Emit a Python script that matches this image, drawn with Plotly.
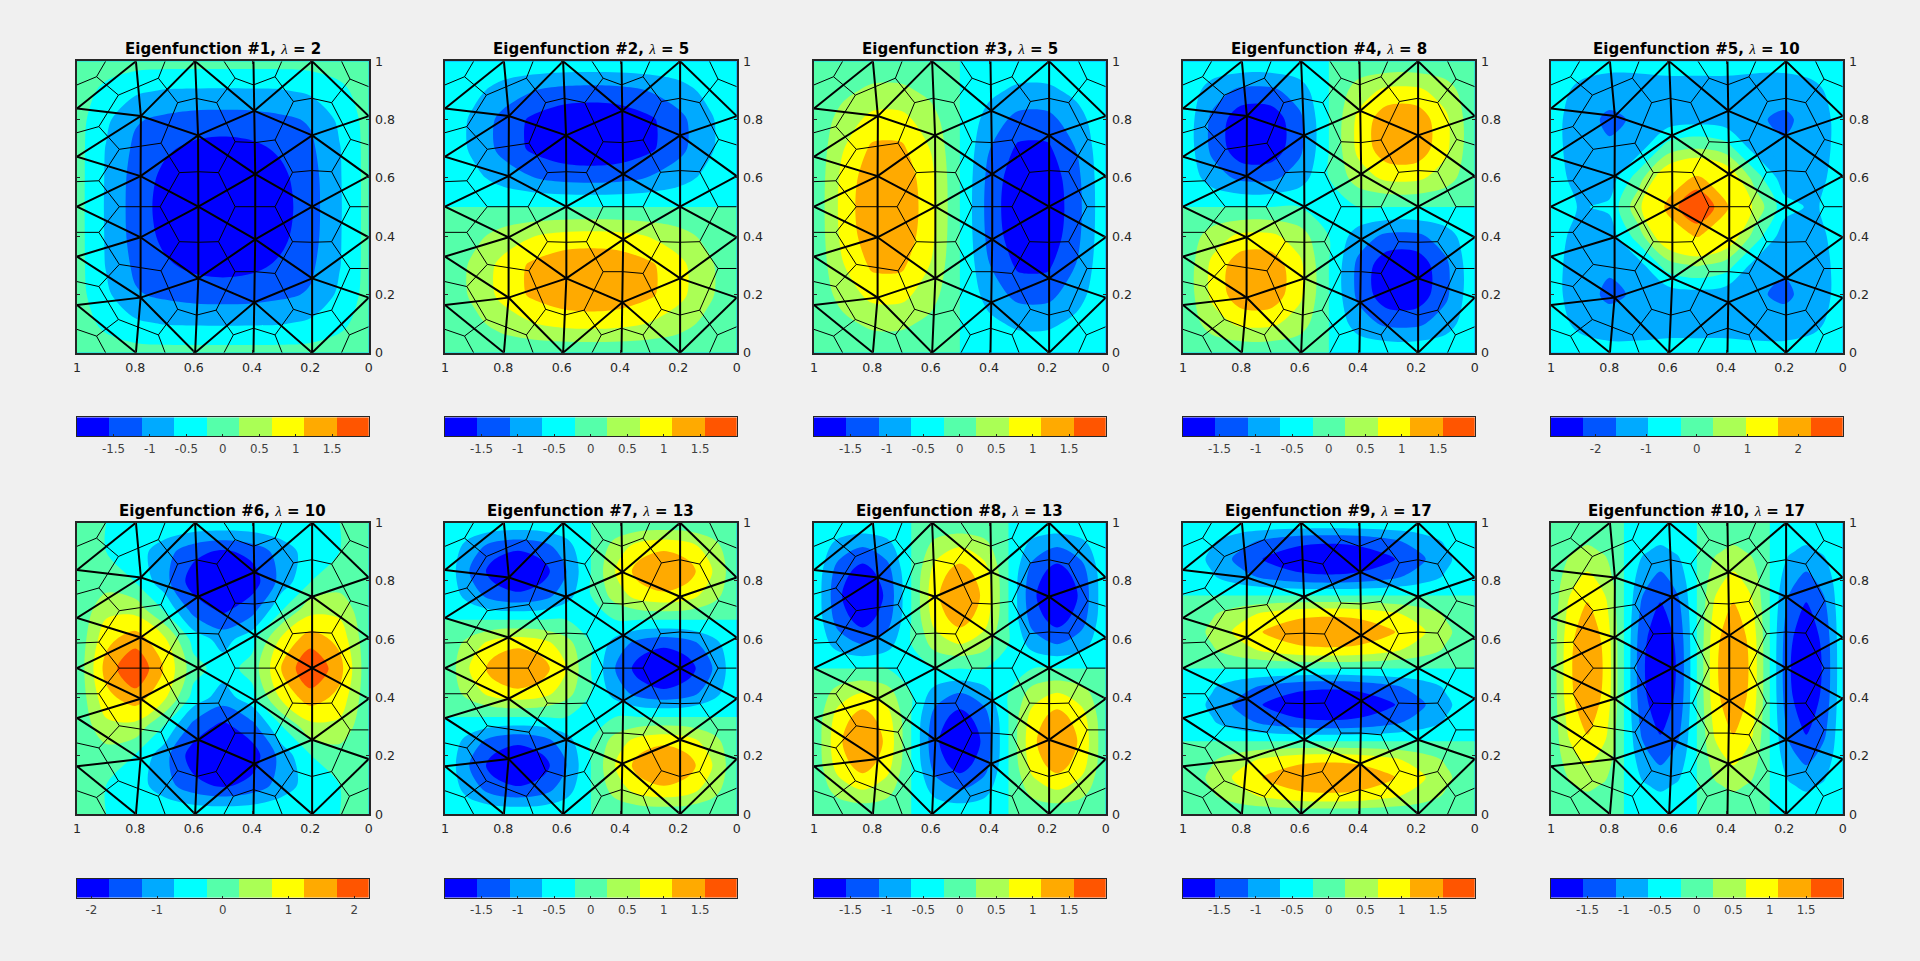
import plotly.graph_objects as go

# ---------- data ----------
TITLES = ["#1", "#2", "#3", "#4", "#5", "#6", "#7", "#8", "#9", "#10"]
LAMBDAS = [2, 5, 5, 8, 10, 10, 13, 13, 17, 17]
AXIS_TICKS = [0, 0.2, 0.4, 0.6, 0.8, 1]
AXIS_LABELS = ["0", "0.2", "0.4", "0.6", "0.8", "1"]
CBAR_LIMITS = [2, 2, 2, 2, 2.88, 2.22, 2, 2, 2, 2]
CBAR_TICKS_STD = [-1.5, -1, -0.5, 0, 0.5, 1, 1.5]
CBAR_LABELS_STD = ["-1.5", "-1", "-0.5", "0", "0.5", "1", "1.5"]
CBAR_TICKS_WIDE = [-2, -1, 0, 1, 2]
CBAR_LABELS_WIDE = ["-2", "-1", "0", "1", "2"]

JET9 = ["#0000ff", "#0055ff", "#00aaff", "#00ffff", "#55ffaa", "#aaff55", "#ffff00", "#ffaa00", "#ff5500"]
JET_P5 = ["#0055ff", "#00aaff", "#00aaff", "#00ffff", "#55ffaa", "#aaff55", "#ffff00", "#ffff00", "#ffaa00", "#ff5500"]

G10 = [0, .1, .2, .3, .4, .5, .6, .7, .8, .9, 1]
G12 = [0, .0833, .1667, .25, .3333, .4167, .5, .5833, .6667, .75, .8333, .9167, 1]
G16 = [0, .0625, .125, .1875, .25, .3125, .375, .4375, .5, .5625, .625, .6875, .75, .8125, .875, .9375, 1]

P1 = [
 [.2,.2,.2,.2,.2,.2,.2,.2,.2,.2,.2],
 [.2,-.1,-.4,-.53,-.55,-.56,-.55,-.53,-.4,-.1,.2],
 [.2,-.4,-.95,-1.1,-1.2,-1.22,-1.2,-1.1,-.95,-.4,.2],
 [.2,-.53,-1.1,-1.42,-1.62,-1.7,-1.62,-1.42,-1.1,-.53,.2],
 [.2,-.55,-1.2,-1.62,-1.85,-1.9,-1.85,-1.62,-1.2,-.55,.2],
 [.2,-.56,-1.22,-1.7,-1.9,-2,-1.9,-1.7,-1.22,-.56,.2],
 [.2,-.55,-1.2,-1.62,-1.85,-1.9,-1.85,-1.62,-1.2,-.55,.2],
 [.2,-.53,-1.1,-1.42,-1.62,-1.7,-1.62,-1.42,-1.1,-.53,.2],
 [.2,-.4,-.95,-1.1,-1.2,-1.22,-1.2,-1.1,-.95,-.4,.2],
 [.2,-.1,-.4,-.53,-.55,-.56,-.55,-.53,-.4,-.1,.2],
 [.2,.2,.2,.2,.2,.2,.2,.2,.2,.2,.2],
]
P2 = [
 [.1,.1,.1,.1,.1,.1,.1,.1,.1,.1,.1],
 [.1,.36,.72,.98,1.15,1.2,1.15,.98,.72,.36,.1],
 [.1,.62,1.16,1.6,1.85,1.92,1.85,1.6,1.16,.62,.1],
 [.1,.62,1.16,1.6,1.85,1.92,1.85,1.6,1.16,.62,.1],
 [.1,.36,.72,.98,1.15,1.2,1.15,.98,.72,.36,.1],
 [0,0,0,0,0,0,0,0,0,0,0],
 [-.1,-.36,-.72,-.98,-1.15,-1.2,-1.15,-.98,-.72,-.36,-.1],
 [-.1,-.62,-1.16,-1.6,-1.85,-1.92,-1.85,-1.6,-1.16,-.62,-.1],
 [-.1,-.62,-1.16,-1.6,-1.85,-1.92,-1.85,-1.6,-1.16,-.62,-.1],
 [-.1,-.36,-.72,-.98,-1.15,-1.2,-1.15,-.98,-.72,-.36,-.1],
 [-.1,-.1,-.1,-.1,-.1,-.1,-.1,-.1,-.1,-.1,-.1],
]
P3 = [
 [-.1,-.1,-.1,-.1,-.1,0,.1,.1,.1,.1,.1],
 [-.1,-.36,-.62,-.62,-.36,0,.36,.62,.62,.36,.1],
 [-.1,-.72,-1.16,-1.16,-.72,0,.72,1.16,1.16,.72,.1],
 [-.1,-.98,-1.6,-1.6,-.98,0,.98,1.6,1.6,.98,.1],
 [-.1,-1.15,-1.85,-1.85,-1.15,0,1.15,1.85,1.85,1.15,.1],
 [-.1,-1.2,-1.92,-1.92,-1.2,0,1.2,1.92,1.92,1.2,.1],
 [-.1,-1.15,-1.85,-1.85,-1.15,0,1.15,1.85,1.85,1.15,.1],
 [-.1,-.98,-1.6,-1.6,-.98,0,.98,1.6,1.6,.98,.1],
 [-.1,-.72,-1.16,-1.16,-.72,0,.72,1.16,1.16,.72,.1],
 [-.1,-.36,-.62,-.62,-.36,0,.36,.62,.62,.36,.1],
 [-.1,-.1,-.1,-.1,-.1,0,.1,.1,.1,.1,.1],
]
P4 = [
 [-.1,-.1,-.1,-.1,-.1,0,.1,.1,.1,.1,.1],
 [-.1,-.75,-1.12,-1.12,-.75,0,.75,1.12,1.12,.75,.1],
 [-.1,-1.12,-1.85,-1.85,-1.12,0,1.12,1.85,1.85,1.12,.1],
 [-.1,-1.12,-1.85,-1.85,-1.12,0,1.12,1.85,1.85,1.12,.1],
 [-.1,-.75,-1.12,-1.12,-.75,0,.75,1.12,1.12,.75,.1],
 [0,0,0,0,0,0,0,0,0,0,0],
 [.1,.75,1.12,1.12,.75,0,-.75,-1.12,-1.12,-.75,-.1],
 [.1,1.12,1.85,1.85,1.12,0,-1.12,-1.85,-1.85,-1.12,-.1],
 [.1,1.12,1.85,1.85,1.12,0,-1.12,-1.85,-1.85,-1.12,-.1],
 [.1,.75,1.12,1.12,.75,0,-.75,-1.12,-1.12,-.75,-.1],
 [.1,.1,.1,.1,.1,0,-.1,-.1,-.1,-.1,-.1],
]
P5 = [
 [-.1,-.1,-.1,-.1,-.1,-.1,-.1,-.1,-.1,-.1,-.1],
 [-.1,-.71,-1.09,-1.06,-.9,-.9,-.9,-1.06,-1.09,-.71,-.1],
 [-.1,-1.09,-1.7,-1.35,-.79,-.7,-.79,-1.35,-1.7,-1.09,-.1],
 [-.1,-1.06,-1.35,-.71,.26,.55,.26,-.71,-1.35,-1.06,-.1],
 [-.1,-.83,-.79,.26,1.58,2.05,1.58,.26,-.79,-.83,-.1],
 [-.1,-.6,-.3,.87,2.1,3.1,2.15,.87,-.4,-.55,-.1],
 [-.1,-.83,-.79,.26,1.58,2.1,1.58,.26,-.79,-.83,-.1],
 [-.1,-1.06,-1.35,-.71,.26,.5,.26,-.71,-1.35,-1.06,-.1],
 [-.1,-1.09,-1.7,-1.35,-.79,-.7,-.79,-1.35,-1.7,-1.09,-.1],
 [-.1,-.71,-1.09,-1.06,-.9,-.9,-.9,-1.06,-1.09,-.71,-.1],
 [-.1,-.1,-.1,-.1,-.1,-.1,-.1,-.1,-.1,-.1,-.1],
]
P6 = [
 [.1,0,-.1,-.1,-.1,-.1,-.1,-.1,-.1,0,.1],
 [.1,0,-.26,-.79,-1.35,-1.6,-1.35,-.79,-.26,0,.1],
 [.1,.26,-.02,-.83,-1.77,-2.35,-1.77,-.83,-.02,.26,.1],
 [.1,.85,.83,-.05,-1.2,-1.65,-1.2,-.05,.83,.85,.1],
 [.1,1.35,1.77,1.09,-.2,-.75,-.2,1.09,1.77,1.35,.1],
 [.1,1.7,2.5,1.5,.2,-.25,.2,1.45,2.5,1.7,.1],
 [.1,1.35,1.77,1.09,-.2,-.7,-.2,1.09,1.77,1.35,.1],
 [.1,.85,.83,-.05,-1.2,-1.6,-1.2,-.05,.83,.85,.1],
 [.1,.26,-.02,-.83,-1.77,-2.35,-1.77,-.83,-.02,.26,.1],
 [.1,0,-.26,-.79,-1.35,-1.6,-1.35,-.79,-.26,0,.1],
 [.1,0,-.1,-.1,-.1,-.1,-.1,-.1,-.1,0,.1],
]
P7 = [
 [.1,.1,.1,.1,.1,.1,0,-.1,-.1,-.1,-.1,-.1,-.1],
 [.1,.71,1.23,1.41,1.23,.71,0,-.71,-1.23,-1.41,-1.23,-.71,-.1],
 [.1,1,1.73,1.95,1.73,1,0,-1,-1.73,-2,-1.73,-1,-.1],
 [.1,.71,1.23,1.41,1.23,.71,0,-.71,-1.23,-1.41,-1.23,-.71,-.1],
 [0,0,0,0,0,0,0,0,0,0,0,0,0],
 [-.1,-.71,-1.23,-1.41,-1.23,-.71,0,.71,1.23,1.41,1.23,.71,.1],
 [-.1,-1,-1.73,-2,-1.73,-1,0,1,1.73,1.95,1.73,1,.1],
 [-.1,-.71,-1.23,-1.41,-1.23,-.71,0,.71,1.23,1.41,1.23,.71,.1],
 [0,0,0,0,0,0,0,0,0,0,0,0,0],
 [.1,.71,1.23,1.41,1.23,.71,0,-.71,-1.23,-1.41,-1.23,-.71,-.1],
 [.1,1,1.73,1.95,1.73,1,0,-1,-1.73,-2,-1.73,-1,-.1],
 [.1,.71,1.23,1.41,1.23,.71,0,-.71,-1.23,-1.41,-1.23,-.71,-.1],
 [.1,.1,.1,.1,.1,.1,0,-.1,-.1,-.1,-.1,-.1,-.1],
]
P8 = [
 [.1,.1,.1,.1,0,-.1,-.1,-.1,0,.1,.1,.1,.1],
 [.1,.71,1,.71,0,-.71,-1,-.71,0,.71,1,.71,.1],
 [.1,1.23,1.73,1.23,0,-1.23,-1.73,-1.23,0,1.23,1.73,1.23,.1],
 [.1,1.41,1.95,1.41,0,-1.41,-2,-1.41,0,1.41,1.95,1.41,.1],
 [.1,1.23,1.73,1.23,0,-1.23,-1.73,-1.23,0,1.23,1.73,1.23,.1],
 [.1,.71,1,.71,0,-.71,-1,-.71,0,.71,1,.71,.1],
 [0,0,0,0,0,0,0,0,0,0,0,0,0],
 [-.1,-.71,-1,-.71,0,.71,1,.71,0,-.71,-1,-.71,-.1],
 [-.1,-1.23,-1.73,-1.23,0,1.23,1.73,1.23,0,-1.23,-1.73,-1.23,-.1],
 [-.1,-1.41,-2,-1.41,0,1.41,1.95,1.41,0,-1.41,-2,-1.41,-.1],
 [-.1,-1.23,-1.73,-1.23,0,1.23,1.73,1.23,0,-1.23,-1.73,-1.23,-.1],
 [-.1,-.71,-1,-.71,0,.71,1,.71,0,-.71,-1,-.71,-.1],
 [-.1,-.1,-.1,-.1,0,.1,.1,.1,0,-.1,-.1,-.1,-.1],
]
P9 = [
 [.1,.1,.1,.1,.1,.1,.1,.1,.1,.1,.1],
 [.1,.44,.83,1.14,1.35,1.41,1.35,1.14,.83,.44,.1],
 [.1,.62,1.18,1.62,1.9,1.95,1.9,1.62,1.18,.62,.1],
 [.1,.44,.83,1.14,1.35,1.41,1.35,1.14,.83,.44,.1],
 [0,0,0,0,0,0,0,0,0,0,0],
 [-.1,-.44,-.83,-1.14,-1.35,-1.41,-1.35,-1.14,-.83,-.44,-.1],
 [-.1,-.62,-1.18,-1.62,-1.9,-2,-1.9,-1.62,-1.18,-.62,-.1],
 [-.1,-.44,-.83,-1.14,-1.35,-1.41,-1.35,-1.14,-.83,-.44,-.1],
 [0,0,0,0,0,0,0,0,0,0,0],
 [.1,.44,.83,1.14,1.35,1.41,1.35,1.14,.83,.44,.1],
 [.1,.62,1.18,1.62,1.9,1.95,1.9,1.62,1.18,.62,.1],
 [.1,.44,.83,1.14,1.35,1.41,1.35,1.14,.83,.44,.1],
 [0,0,0,0,0,0,0,0,0,0,0],
 [-.1,-.44,-.83,-1.14,-1.35,-1.41,-1.35,-1.14,-.83,-.44,-.1],
 [-.1,-.62,-1.18,-1.62,-1.9,-2,-1.9,-1.62,-1.18,-.62,-.1],
 [-.1,-.44,-.83,-1.14,-1.35,-1.41,-1.35,-1.14,-.83,-.44,-.1],
 [-.1,-.1,-.1,-.1,-.1,-.1,-.1,-.1,-.1,-.1,-.1],
]
P10 = [
 [-.1,-.1,-.1,-.1,0,.1,.1,.1,0,-.1,-.1,-.1,0,.1,.1,.1,.1],
 [-.1,-.44,-.62,-.44,0,.44,.62,.44,0,-.44,-.62,-.44,0,.44,.62,.44,.1],
 [-.1,-.83,-1.18,-.83,0,.83,1.18,.83,0,-.83,-1.18,-.83,0,.83,1.18,.83,.1],
 [-.1,-1.14,-1.62,-1.14,0,1.14,1.62,1.14,0,-1.14,-1.62,-1.14,0,1.14,1.62,1.14,.1],
 [-.1,-1.35,-1.9,-1.35,0,1.35,1.9,1.35,0,-1.35,-1.9,-1.35,0,1.35,1.9,1.35,.1],
 [-.1,-1.41,-2,-1.41,0,1.41,1.95,1.41,0,-1.41,-2,-1.41,0,1.41,1.95,1.41,.1],
 [-.1,-1.35,-1.9,-1.35,0,1.35,1.9,1.35,0,-1.35,-1.9,-1.35,0,1.35,1.9,1.35,.1],
 [-.1,-1.14,-1.62,-1.14,0,1.14,1.62,1.14,0,-1.14,-1.62,-1.14,0,1.14,1.62,1.14,.1],
 [-.1,-.83,-1.18,-.83,0,.83,1.18,.83,0,-.83,-1.18,-.83,0,.83,1.18,.83,.1],
 [-.1,-.44,-.62,-.44,0,.44,.62,.44,0,-.44,-.62,-.44,0,.44,.62,.44,.1],
 [-.1,-.1,-.1,-.1,0,.1,.1,.1,0,-.1,-.1,-.1,0,.1,.1,.1,.1],
]
PANELS = [P1, P2, P3, P4, P5, P6, P7, P8, P9, P10]
GRID_X = [G10, G10, G10, G10, G10, G10, G12, G12, G10, G16]
GRID_Y = [G10, G10, G10, G10, G10, G10, G12, G12, G16, G10]

# coarse triangle mesh
COARSE_NODES = {
 "a1": (.798, 1), "a2": (.595, 1), "a3": (.395, 1), "a4": (.194, 1),
 "b1": (.798, 0), "b2": (.595, 0), "b3": (.395, 0), "b4": (.194, 0),
 "l1": (1, .838), "l2": (1, .673), "l3": (1, .501), "l4": (1, .33), "l5": (1, .164),
 "r1": (0, .812), "r2": (0, .606), "r3": (0, .396), "r4": (0, .189),
 "p1": (.781, .812), "p2": (.782, .606), "p3": (.782, .396), "p4": (.782, .189),
 "q1": (.585, .746), "q2": (.584, .501), "q3": (.584, .255),
 "u1": (.392, .83), "u2": (.389, .613), "u3": (.389, .389), "u4": (.392, .173),
 "v1": (.194, .746), "v2": (.194, .501), "v3": (.194, .255),
}
COARSE_PATHS = [
 "a1 p1 p2 p3 p4 b1", "a2 q1 q2 q3 b2", "a3 u1 u2 u3 u4 b3", "a4 v1 v2 v3 b4",
 "l1 p1 q1 u2 v2 r3", "a1 l1", "a2 p1 l2", "a2 u1 v1 r2", "u1 q1 p2 l3", "a4 u1", "a4 r1",
 "r1 v1 u2 q2 p3 l4", "l2 p2 q2 u3 v3 r4", "r2 v2 u3 q3 p4 l5", "l3 p3 q3 u4 b4",
 "r3 v3 u4 b2", "l4 p4 b2", "r4 b4", "l5 b1",
]
# fine polygon mesh
FINE_NODES = {
 "T1": (.933, .947), "T2": (.858, .884), "T3": (.721, .942), "T4": (.655, .858), "T5": (.593, .873),
 "T6": (.521, .858), "T7": (.458, .942), "T8": (.395, .919), "T9": (.321, .947), "T10": (.258, .862),
 "T11": (.195, .873), "T12": (.127, .858), "T13": (.064, .939),
 "S1": (.925, .776), "S2": (.855, .698), "S3": (.712, .719), "S4": (.649, .618), "S5": (.584, .621),
 "S6": (.515, .618), "S7": (.458, .724), "S8": (.39, .721), "S9": (.321, .73), "S10": (.261, .619),
 "S11": (.195, .625), "S12": (.127, .621), "S13": (.062, .732), "S14": (.925, .59),
 "M1": (.855, .501), "M2": (.715, .501), "M3": (.458, .501), "M4": (.321, .501), "M5": (.064, .501),
 "L1": (.925, .413), "L2": (.855, .303), "L3": (.712, .281), "L4": (.649, .381), "L5": (.584, .379),
 "L6": (.515, .381), "L7": (.458, .278), "L8": (.39, .278), "L9": (.321, .272), "L10": (.261, .381),
 "L11": (.195, .379), "L12": (.127, .381), "L13": (.064, .289),
 "B1": (.925, .227), "B2": (.858, .114), "B3": (.933, .057), "B4": (.721, .061), "B5": (.655, .149),
 "B6": (.59, .129), "B7": (.523, .146), "B8": (.464, .061), "B9": (.395, .084), "B10": (.321, .061),
 "B11": (.258, .149), "B12": (.195, .129), "B13": (.127, .146), "B14": (.066, .061),
 "e1": (1, .919), "e2": (.902, 1), "e3": (1, .755), "e4": (1, .587), "e5": (1, .413), "e6": (1, .244),
 "e7": (1, .08), "e8": (.902, 0), "e9": (.698, 1), "e10": (.496, 1), "e11": (.298, 1), "e12": (.093, 1),
 "e13": (0, .913), "e14": (0, .713), "e15": (0, .501), "e16": (0, .289), "e17": (0, .089),
 "e18": (.698, 0), "e19": (.496, 0), "e20": (.297, 0), "e21": (.093, 0),
}
FINE_PATHS = [
 "e1 T1 T2 T3 T4 T5 T6 T7 T8 T9 T10 T11 T12 T13 e13", "e2 T1", "e9 T3", "e10 T7", "e11 T9", "e12 T13",
 "e3 S1 T2", "S1 S2 S3 T4", "S3 S4 S5 S6 S7 T6", "S7 S8 S9 T10", "S9 S10 S11 S12 S13 T12", "S13 e14",
 "S2 S14 e4", "S14 M1 L1 e5", "M1 M2 S4", "M2 L4 L5 L6 M3 S6", "M3 M4 S10", "M4 L10 L11 L12 M5 S12", "M5 e15",
 "L1 L2 L3 L4", "L2 B1 e6", "B1 B2 B3 e7", "B3 e8", "B2 B4 B5 L3", "B4 e18", "B5 B6 B7 L7 L6", "B7 B8 e19",
 "B8 B9 B10 e20", "B10 B11 L9", "L7 L8 L9 L10", "B11 B12 B13 L13 L12", "L13 e16", "B13 B14 e21", "B14 e17",
]

# ---------- layout in pixels ----------
W, H = 1920, 961
LEFTS = [77, 445, 814, 1183, 1551]
PW = 291.7
ROW_TOP = [61.3, 522.7]
PH = 291.4
CB_TOP = [417.3, 878.7]
CB_H = 19
AXC = "#262626"


def polylines(nodes, paths):
    xs, ys = [], []
    for p in paths:
        for name in p.split():
            xs.append(nodes[name][0])
            ys.append(nodes[name][1])
        xs.append(None)
        ys.append(None)
    return xs, ys


cx, cy = polylines(COARSE_NODES, COARSE_PATHS)
fx, fy = polylines(FINE_NODES, FINE_PATHS)

fig = go.Figure()
layout = dict(
    width=W, height=H, margin=dict(l=0, r=0, t=0, b=0, pad=0, autoexpand=False), paper_bgcolor="#f0f0f0", plot_bgcolor="#f0f0f0",
    showlegend=False, font=dict(family="DejaVu Sans", color=AXC, size=12.5), annotations=[],
)

for k in range(10):
    row, col = k // 5, k % 5
    left, top = LEFTS[col], ROW_TOP[row]
    colors = JET_P5 if k == 4 else JET9
    end = 2.5 if k == 4 else 2.0
    n = len(colors)
    scale = [[i / (n - 1), c] for i, c in enumerate(colors)]
    a = 2 * k + 1
    xa, ya = f"x{a}", f"y{a}"
    fig.add_trace(go.Contour(
        x=GRID_X[k], y=GRID_Y[k], z=PANELS[k], xaxis=xa, yaxis=ya, colorscale=scale, showscale=False,
        autocontour=False, contours=dict(start=-1.5, end=end, size=0.5, coloring="fill", showlines=False),
        line=dict(width=0, smoothing=0.9), hoverinfo="skip",
    ))
    fig.add_trace(go.Scatter(x=fx, y=fy, xaxis=xa, yaxis=ya, mode="lines", line=dict(color="#000000", width=1), hoverinfo="skip"))
    fig.add_trace(go.Scatter(x=cx, y=cy, xaxis=xa, yaxis=ya, mode="lines", line=dict(color="#000000", width=2), hoverinfo="skip"))
    common = dict(tickvals=AXIS_TICKS, ticktext=AXIS_LABELS, ticks="inside", ticklen=3, tickcolor=AXC, tickwidth=1,
                  showline=True, linecolor=AXC, linewidth=1.6, mirror="ticks", showgrid=False, zeroline=False,
                  ticklabelstandoff=2, tickfont=dict(size=12.6, color=AXC, family="DejaVu Sans"))
    layout[f"xaxis{a}"] = dict(domain=[left / W, (left + PW) / W], range=[1, 0], anchor=ya, side="bottom", **common)
    layout[f"yaxis{a}"] = dict(domain=[1 - (top + PH) / H, 1 - top / H], range=[0, 1], anchor=xa, side="right", **common)
    layout["annotations"].append(dict(
        xref="paper", yref="paper", x=(left + PW / 2) / W, y=1 - (top - 12) / H, xanchor="center", yanchor="middle",
        showarrow=False, font=dict(family="DejaVu Sans", size=15, color="#000000"),
        text=f"<b>Eigenfunction {TITLES[k]}, </b><span style=\"font-family:'Liberation Serif';font-style:italic\">λ</span><b> = {LAMBDAS[k]}</b>",
    ))
    # colour bar
    R = CBAR_LIMITS[k]
    b = a + 1
    xb, yb = f"x{b}", f"y{b}"
    edges = [-R + 2 * R * i / 9 for i in range(10)]
    fig.add_trace(go.Heatmap(
        x=edges, y=[0, 1], z=[list(range(9))], xaxis=xb, yaxis=yb, showscale=False, zmin=0, zmax=8,
        colorscale=[[i / 8, c] for i, c in enumerate(JET9)], hoverinfo="skip",
    ))
    wide = k in (4, 5)
    top_cb = CB_TOP[row]
    layout[f"xaxis{b}"] = dict(
        domain=[left / W, (left + PW) / W], range=[-R, R], anchor=yb, side="bottom",
        tickvals=CBAR_TICKS_WIDE if wide else CBAR_TICKS_STD, ticktext=CBAR_LABELS_WIDE if wide else CBAR_LABELS_STD,
        ticks="inside", ticklen=2, tickcolor=AXC, tickwidth=1, showline=True, linecolor=AXC, linewidth=1.2, mirror=True,
        showgrid=False, zeroline=False, ticklabelstandoff=1, tickfont=dict(size=11.8, color="#404040", family="DejaVu Sans"),
    )
    layout[f"yaxis{b}"] = dict(
        domain=[1 - (top_cb + CB_H) / H, 1 - top_cb / H], range=[0, 1], anchor=xb, showticklabels=False, ticks="",
        showline=True, linecolor=AXC, linewidth=1.2, mirror=True, showgrid=False, zeroline=False,
    )

fig.update_layout(**layout)
fig.write_html("out.html", config={"displayModeBar": False}, post_script="document.body.style.margin='0';document.body.style.overflow='hidden';")
